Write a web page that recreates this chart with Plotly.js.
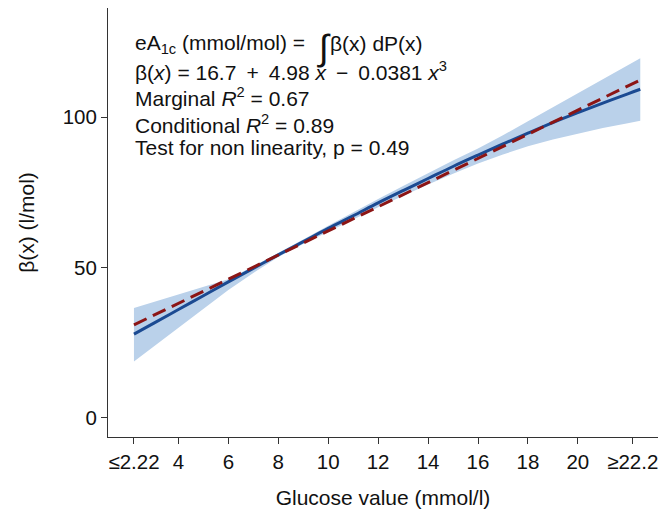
<!DOCTYPE html>
<html>
<head>
<meta charset="utf-8">
<script src="https://cdn.plot.ly/plotly-3.0.1.min.js"></script>
<style>html,body{margin:0;padding:0;background:#fff;}#chart{width:660px;height:513px;}</style>
</head>
<body>
<div id="chart"></div>
<script>
// Glucose values (mmol/l) at which the curve is read
const xs = [2.22, 3, 4, 5, 6, 7, 8, 9, 10, 11, 12, 13, 14, 15, 16, 17, 18, 19, 20, 21, 22, 22.5];
// Fitted beta(x) (solid line)
const fitted = [27.8, 31.4, 36.0, 40.6, 45.2, 49.7, 54.2, 58.6, 63.0, 67.2, 71.5, 75.6, 79.6, 83.6, 87.4, 91.1, 94.7, 98.2, 101.5, 104.7, 107.8, 109.3];
// Confidence band
const lower = [18.7, 23.6, 29.9, 36.2, 42.5, 48.2, 53.5, 57.8, 62.0, 66.0, 70.0, 73.9, 77.6, 81.2, 84.6, 87.6, 90.3, 92.6, 94.6, 96.4, 98.0, 98.8];
const upper = [36.5, 38.5, 41.0, 43.6, 46.1, 50.4, 54.8, 59.3, 63.9, 68.4, 72.8, 77.1, 81.4, 85.6, 89.6, 94.0, 98.7, 103.3, 108.0, 112.6, 117.3, 119.6];
// Linear fit (dashed line)
const linX = [2.22, 22.5];
const linY = [30.9, 112.4];
// Axis ticks
const xTickVals = [2.22, 4, 6, 8, 10, 12, 14, 16, 18, 20, 22.2];
const xTickText = ['≤2.22', '4', '6', '8', '10', '12', '14', '16', '18', '20', '≥22.2'];
const yTickVals = [0, 50, 100];

const FONT = 'Liberation Sans, Arial, sans-serif';

const traces = [
  {x: xs, y: lower, mode: 'lines', line: {width: 0, color: 'rgba(0,0,0,0)'}, hoverinfo: 'skip', showlegend: false},
  {x: xs, y: upper, mode: 'lines', line: {width: 0, color: 'rgba(0,0,0,0)'}, fill: 'tonexty', fillcolor: '#bad1ea', hoverinfo: 'skip', showlegend: false},
  {x: xs, y: fitted, mode: 'lines', line: {color: '#1b4a92', width: 3, shape: 'spline'}, showlegend: false},
  {x: linX, y: linY, mode: 'lines', line: {color: '#8c1515', width: 3, dash: '14px,7px'}, showlegend: false}
];

function ann(text, x, y, size, extra) {
  return Object.assign({xref: 'paper', yref: 'paper', x: x, y: y, xanchor: 'left', yanchor: 'middle',
    text: text, showarrow: false, font: {family: FONT, size: size || 21, color: '#111'}}, extra || {});
}
const W = 550, H = 429;
function px(xp) { return (xp - 108) / W; }
function py(yp) { return (437 - yp) / H; }

const layout = {
  width: 660, height: 513,
  margin: {l: 108, r: 2, t: 8, b: 76},
  paper_bgcolor: '#fff', plot_bgcolor: '#fff',
  showlegend: false,
  font: {family: FONT, size: 20, color: '#111'},
  xaxis: {
    range: [1.18, 23.21], tickvals: xTickVals, ticktext: xTickText,
    showgrid: false, zeroline: false, showline: true, linecolor: '#333', linewidth: 1,
    ticks: 'outside', ticklen: 6, tickcolor: '#333', tickwidth: 1,
    tickfont: {family: FONT, size: 20.5, color: '#111'},
    title: {text: 'Glucose value (mmol/l)', font: {family: FONT, size: 21, color: '#111'}, standoff: 18}
  },
  yaxis: {
    range: [-6.42, 136.35], tickvals: yTickVals,
    showgrid: false, zeroline: false, showline: true, linecolor: '#333', linewidth: 1,
    ticks: 'outside', ticklen: 6, tickcolor: '#333', tickwidth: 1,
    tickfont: {family: FONT, size: 20.5, color: '#111'},
    title: {text: 'β(x) (l/mol)', font: {family: FONT, size: 21, color: '#111'}, standoff: 22}
  },
  annotations: [
    ann('eA<sub>1c</sub> (mmol/mol) =', px(133), py(44)),
    ann('∫', px(315), py(48), 36),
    ann('β(x) dP(x)', px(328), py(43)),
    ann('β(<i>x</i>) = 16.7\u2009 + \u20094.98 <i>x</i>\u2009 − \u20090.0381 <i>x</i><sup>3</sup>', px(133), py(71)),
    ann('Marginal <i>R</i><sup>2</sup> = 0.67', px(133), py(97)),
    ann('Conditional <i>R</i><sup>2</sup> = 0.89', px(133), py(124)),
    ann('Test for non linearity, p = 0.49', px(133), py(147))
  ]
};

Plotly.newPlot('chart', traces, layout, {displayModeBar: false, staticPlot: true});
</script>
</body>
</html>
